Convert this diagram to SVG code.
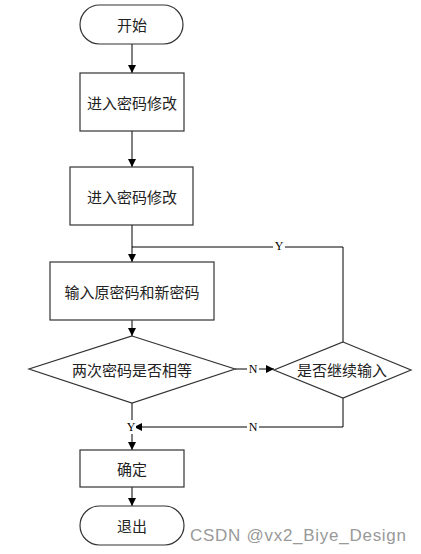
<svg xmlns="http://www.w3.org/2000/svg" width="421" height="554" viewBox="0 0 421 554">
<defs>
<marker id="ah" viewBox="0 0 10 10" refX="10" refY="5" markerWidth="8" markerHeight="8" markerUnits="userSpaceOnUse" orient="auto">
<path d="M0,0 L10,5 L0,10 z" fill="#000"/>
</marker>
<style>
.s{fill:#fff;stroke:#333;stroke-width:1.2}
.t{font-family:"Noto Sans CJK SC","Noto Sans CJK JP",sans-serif;font-size:15px;fill:#222;text-anchor:middle;dominant-baseline:central}
.l{fill:none;stroke:#000;stroke-width:1}
.lb{font-family:"Liberation Serif",serif;font-size:12px;fill:#000;text-anchor:middle;dominant-baseline:central}
.wm{font-family:"Liberation Sans",Arial,sans-serif;font-size:17px;fill:#999}
</style>
</defs>
<rect width="421" height="554" fill="#fff"/>
<g id="connectors">
<path class="l" d="M132,44 V73" marker-end="url(#ah)"/>
<path class="l" d="M132,131 V167" marker-end="url(#ah)"/>
<path class="l" d="M132,225 V262" marker-end="url(#ah)"/>
<path class="l" d="M132,320 V336" marker-end="url(#ah)"/>
<path class="l" d="M235,369 H274" marker-end="url(#ah)"/>
<path class="l" d="M343,342 V247 H132"/>
<path class="l" d="M343,398 V427 H134" marker-end="url(#ah)"/>
<path class="l" d="M132,403 V450" marker-end="url(#ah)"/>
<path class="l" d="M132,487 V506" marker-end="url(#ah)"/>
<rect x="247" y="362" width="12" height="14" fill="#fff"/>
<text class="lb" x="253" y="369">N</text>
<rect x="273" y="240" width="12" height="14" fill="#fff"/>
<text class="lb" x="279" y="246">Y</text>
<rect x="247" y="420" width="12" height="14" fill="#fff"/>
<text class="lb" x="253" y="427">N</text>
<rect x="126" y="420" width="10" height="14" fill="#fff"/>
<text class="lb" x="131" y="427">Y</text>
</g>
<g id="start">
<rect class="s" x="80" y="5" width="103" height="39" rx="19.5"/>
<text class="t" x="132" y="24">开始</text>
</g>
<g id="box1">
<rect class="s" x="80" y="73" width="104" height="58"/>
<text class="t" x="132" y="102">进入密码修改</text>
</g>
<g id="box2">
<rect class="s" x="70" y="167" width="123" height="58"/>
<text class="t" x="132" y="196">进入密码修改</text>
</g>
<g id="box3">
<rect class="s" x="50" y="262" width="164" height="58"/>
<text class="t" x="132" y="291">输入原密码和新密码</text>
</g>
<g id="decision1">
<polygon class="s" points="132,336 235,369 132,403 29,369"/>
<text class="t" x="132" y="369">两次密码是否相等</text>
</g>
<g id="decision2">
<polygon class="s" points="343,342 411,370 343,398 274,370"/>
<text class="t" x="342" y="369">是否继续输入</text>
</g>
<g id="confirm">
<rect class="s" x="80" y="450" width="104" height="37"/>
<text class="t" x="132" y="468">确定</text>
</g>
<g id="end">
<rect class="s" x="80" y="506" width="104" height="39" rx="19.5"/>
<text class="t" x="132" y="525">退出</text>
</g>
<text class="wm" x="190" y="541" textLength="216" lengthAdjust="spacing">CSDN @vx2_Biye_Design</text>
</svg>
